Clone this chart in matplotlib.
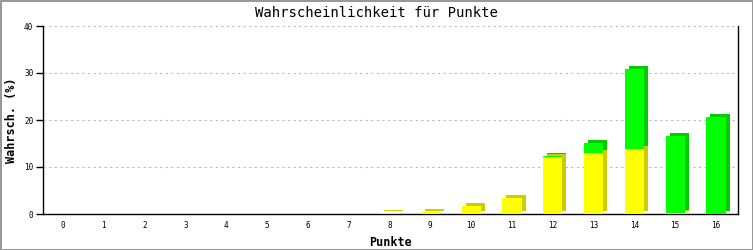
import matplotlib
matplotlib.use('Agg')
import matplotlib.pyplot as plt
from matplotlib.transforms import ScaledTranslation

points = list(range(17))
yellow_vals = [0, 0, 0, 0, 0, 0, 0, 0, 0.2, 0.4, 1.8, 3.5, 12.1, 12.9, 13.9, 0.2, 0.0]
green_vals = [0, 0, 0, 0, 0, 0, 0, 0, 0.0, 0.0, 0.0, 0.0, 0.2, 2.3, 17.0, 16.3, 20.6]

plt.rcParams['font.family'] = 'DejaVu Sans Mono'

fig = plt.figure(figsize=(7.53, 2.5), dpi=100)
fig.patch.set_facecolor('white')
fig.patch.set_edgecolor('#999999')
fig.patch.set_linewidth(2)
ax = fig.add_axes([43 / 753, 36 / 250, 695 / 753, 188 / 250])

width = 0.47
# depth of the 3d effect, in pixels
shift = ax.transData + ScaledTranslation(4 / 100, 3 / 100, fig.dpi_scale_trans)

ax.bar(points, yellow_vals, width, color='#cccc00', transform=shift, zorder=2)
ax.bar(points, green_vals, width, bottom=yellow_vals, color='#00cc00', transform=shift, zorder=2)
ax.bar(points, yellow_vals, width, color='#ffff00', zorder=3)
ax.bar(points, green_vals, width, bottom=yellow_vals, color='#00ff00', zorder=3)

ax.set_xlim(-0.49, 16.54)
ax.set_ylim(0, 40)
ax.set_yticks([0, 10, 20, 30, 40])
ax.set_xticks(points)
ax.tick_params(axis='x', length=0, labelsize=5.5, pad=5)
ax.tick_params(axis='y', length=5, width=1, labelsize=5.5, pad=2)
ax.yaxis.grid(True, linestyle=(0, (2, 3)), color='#bbbbbb', linewidth=0.8)
ax.set_axisbelow(True)
ax.spines['top'].set_visible(False)
for s in ['left', 'bottom', 'right']:
    ax.spines[s].set_linewidth(1)

fig.text(0.5, 1 - 13 / 250, 'Wahrscheinlichkeit für Punkte', fontsize=10,
         ha='center', va='center')
ax.set_xlabel('Punkte', fontsize=8.5, fontweight='bold', labelpad=4)
ax.set_ylabel('Wahrsch. (%)', fontsize=8.5, fontweight='bold', va='center')
ax.yaxis.set_label_coords(-31 / 695, 0.5)

fig.savefig('out.png', dpi=100, facecolor=fig.get_facecolor(), edgecolor=fig.get_edgecolor())
